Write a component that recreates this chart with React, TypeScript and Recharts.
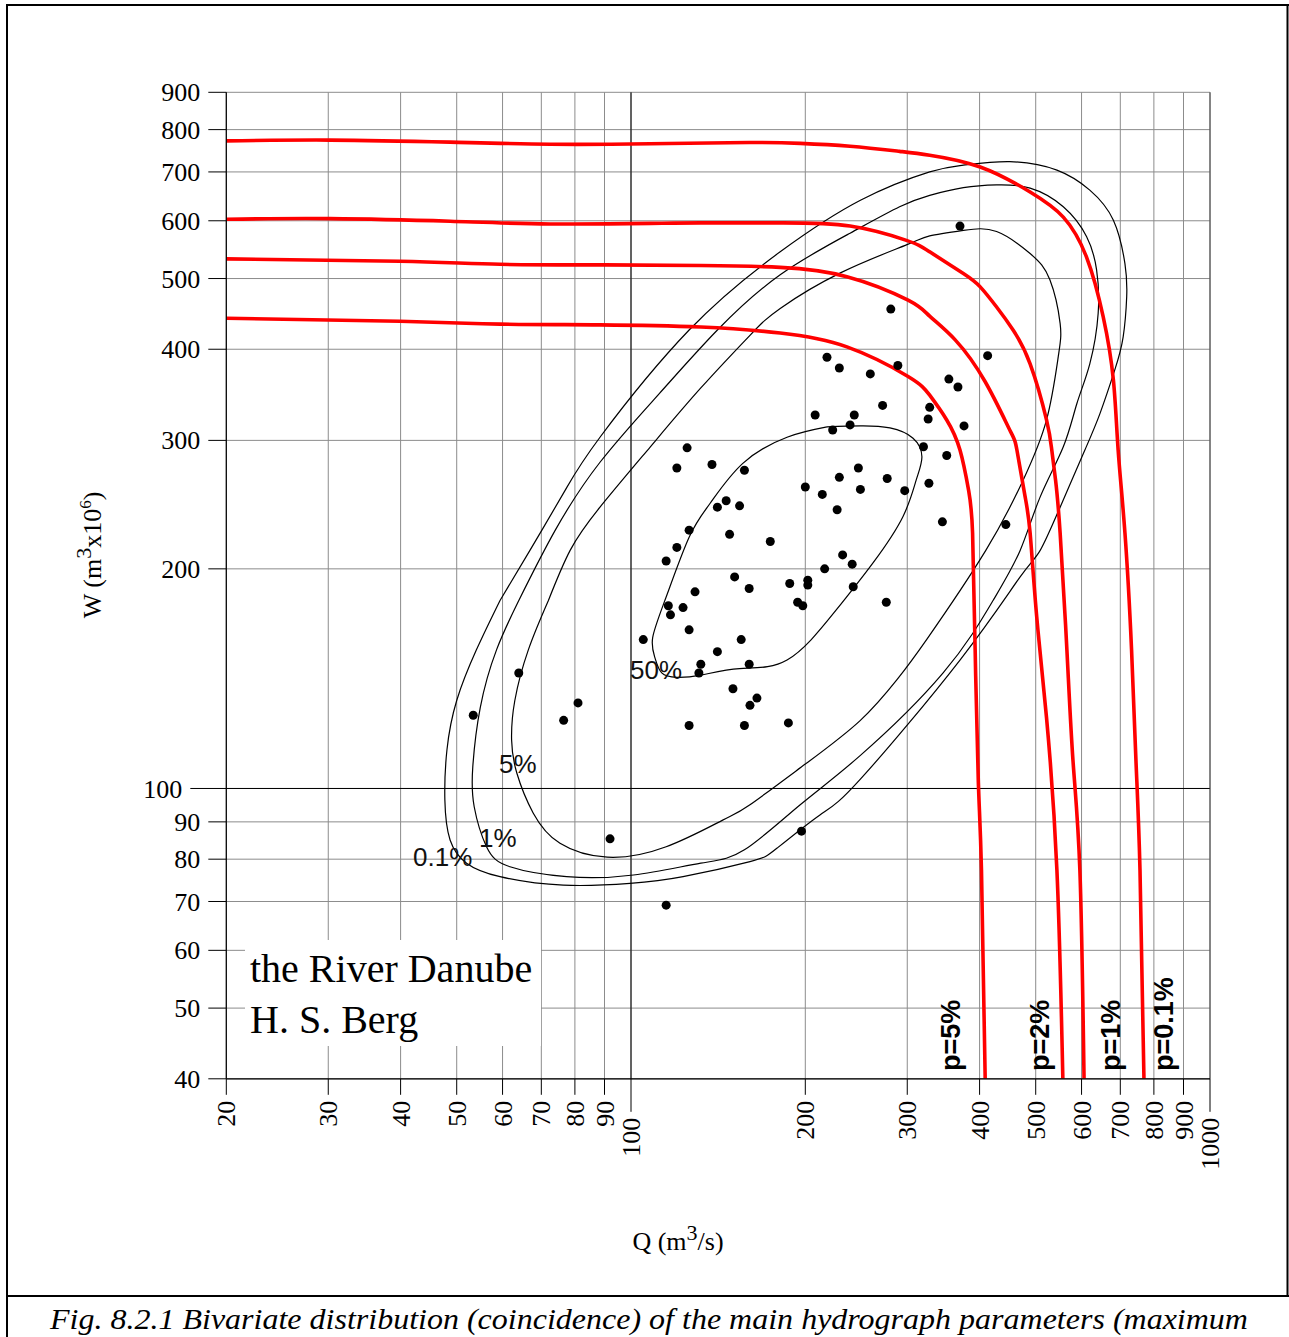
import React from "react";
import { ComposedChart, Scatter, Line, XAxis, YAxis, CartesianGrid, ReferenceLine } from "recharts";

// axis ticks (log-log)
const xTicks = [20, 30, 40, 50, 60, 70, 80, 90, 100, 200, 300, 400, 500, 600, 700, 800, 900, 1000];
const yTicks = [40, 50, 60, 70, 80, 90, 100, 200, 300, 400, 500, 600, 700, 800, 900];

// observed flood waves [Q m3/s, W m3x10^6]
const observed: [number, number][] = [
  [370, 590], [281, 454], [413, 392], [218, 390], [229, 377], [259, 370], [289, 380], [354, 364],
  [367, 355], [272, 335], [328, 333], [326, 321], [376, 314], [208, 325], [243, 325], [239, 315],
  [223, 310], [125, 293], [320, 294], [351, 286], [120, 275], [138, 278], [157, 273], [277, 266],
  [229, 267], [247, 275], [200, 259], [214, 253], [249, 257], [297, 256], [327, 262], [146, 248],
  [141, 243], [154, 244], [227, 241], [345, 232], [444, 230], [126, 226], [148, 223], [174, 218],
  [120, 214], [115, 205], [232, 209], [241, 203], [216, 200], [151, 195], [160, 188], [188, 191],
  [202, 193], [202, 190], [242, 189], [129, 186], [116, 178], [123, 177], [117, 173], [194, 180],
  [198, 178], [276, 180], [126, 165], [105, 160], [155, 160], [141, 154], [132, 148], [160, 148],
  [131, 144], [64, 144], [150, 137], [165, 133], [160.5, 130], [81, 131], [76.5, 124], [53.4, 126],
  [126, 122], [157, 122], [187, 123], [92, 85.3], [197, 87.4], [115, 69.2],
];

// probability contours of the joint distribution
const contour50: [number, number][] = [
  [218, 313], [249, 314], [280, 312], [307, 302], [318, 285], [311, 265], [295, 236], [262, 204],
  [224, 174], [186, 150], [154, 146], [132, 143], [120, 142], [113, 144], [110, 151], [109, 161],
  [115, 183], [126, 221], [137, 246], [156, 279], [186, 303], [218, 313],
];
const contour5: [number, number][] = [
  [72, 181], [78.5, 212], [88.4, 243], [108, 294], [132, 354], [160.5, 418], [181, 455], [230, 509],
  [299, 556], [328, 572], [375, 582], [428, 580], [489, 541], [529, 498], [551, 434], [547, 391],
  [522, 320], [476, 265], [410, 212], [324, 160], [288, 141], [249, 124], [200, 108], [160.5, 95],
  [144, 90.5], [115, 83.2], [91, 80.5], [75.4, 84.1], [67.8, 92.5], [63.5, 105], [62.2, 116.5],
  [63, 132], [66.5, 155], [72, 181],
];
const contour1: [number, number][] = [
  [64, 181], [74, 226], [88.4, 280], [112, 348], [141, 425], [181, 506], [239, 577], [291, 627],
  [328, 650], [375, 666], [428, 672], [489, 665], [558, 627], [612, 571], [637, 514], [641, 448],
  [620, 382], [589, 337], [558, 294], [509, 251], [470, 212], [422, 181], [346, 144], [249, 111],
  [196, 95], [157, 82.4], [132, 79], [101, 76.1], [77.4, 75.7], [61.8, 78.1], [56.3, 83.2],
  [53.6, 94.4], [53.3, 107], [54.9, 129], [58.6, 155], [64, 181],
];
const contour01: [number, number][] = [
  [59.4, 181], [66.9, 212], [76.9, 256], [88.4, 303], [126, 425], [181, 544], [249, 640], [328, 700],
  [375, 715], [451, 723], [544, 704], [620, 661], [681, 601], [713, 524], [718, 472], [708, 416],
  [685, 375], [646, 327], [608, 291], [551, 243], [509, 212], [470, 195], [370, 150], [249, 103],
  [212, 92], [179, 82.9], [160.5, 79.4], [123, 75.7], [99.6, 74.1], [76.4, 73.7], [59.4, 75.7],
  [52, 79], [48.7, 85], [47.7, 96.4], [48.1, 113], [50, 132], [54.1, 155], [59.4, 181],
];

// exceedance probability curves p
const p5: [number, number][] = [
  [20, 441], [39.9, 437], [59.4, 433], [88.4, 432], [132, 429], [181, 421], [236, 403], [301, 367],
  [328, 346], [351, 320], [370, 291], [383, 256], [389, 224], [393, 155], [398, 102], [403, 77.3], [409, 40],
];
const p2: [number, number][] = [
  [20, 532], [39.9, 528], [59.4, 523], [88.4, 522], [132, 521], [181, 518], [236, 503], [301, 467],
  [328, 444], [363, 412], [409, 361], [451, 310], [464, 291], [479, 252], [489, 224], [502, 172],
  [522, 125], [544, 77.3], [557, 40],
];
const p1: [number, number][] = [
  [20, 603], [30.2, 604], [48.7, 599], [72.5, 594], [108, 595], [132, 596], [181, 596], [239, 590],
  [299, 564], [328, 544], [375, 508], [401, 487], [428, 457], [457, 425], [489, 382], [522, 320],
  [533, 291], [541, 265], [551, 224], [566, 155], [580, 109], [596, 77.3], [606, 40],
];
const p01: [number, number][] = [
  [20, 772], [30.2, 774], [48.7, 769], [72.5, 764], [108, 765], [160, 768], [196, 766], [239, 759],
  [291, 747], [328, 738], [401, 711], [489, 657], [558, 607], [612, 535], [654, 443], [681, 363],
  [694, 291], [713, 224], [732, 155], [745, 109], [757, 77.3], [769, 40],
];

const toPts = (a: [number, number][]) => a.map(([q, w]) => ({ q, w }));

const SERIF = "'Liberation Serif', 'Times New Roman', serif";
const SANS = "'Liberation Sans', Arial, sans-serif";
const GRID = "#8c8c8c";

const dot = (p: any) => <circle cx={p.cx} cy={p.cy} r={4.5} fill="#000" />;

const XTick = (props: any) => {
  const { x, y, payload } = props;
  const v = payload.value;
  const len = v === 100 || v === 1000 ? 33 : 16;
  const ty = y + len + 6;
  return (
    <g>
      <line x1={x} x2={x} y1={y} y2={y + len} stroke="#000" strokeWidth={1} />
      <text
        x={x}
        y={ty}
        dy="0.35em"
        textAnchor="end"
        transform={`rotate(-90 ${x} ${ty})`}
        fontFamily={SERIF}
        fontSize={26}
        fill="#000"
      >
        {v}
      </text>
    </g>
  );
};

const YTick = (props: any) => {
  const { x, y, payload } = props;
  const v = payload.value;
  const len = v === 100 ? 36 : 18;
  return (
    <g>
      <line x1={x - len} x2={x} y1={y} y2={y} stroke="#000" strokeWidth={1} />
      <text x={x - len - 8} y={y} dy="0.35em" textAnchor="end" fontFamily={SERIF} fontSize={26} fill="#000">
        {v}
      </text>
    </g>
  );
};

export default function App() {
  return (
    <div style={{ position: "relative", width: 1289, height: 1337, background: "#fff" }}>
      <style>{"body{margin:0;background:#fff}"}</style>
      <ComposedChart width={1289} height={1337} margin={{ top: 92.3, right: 79, left: 146.3, bottom: 198.2 }}>
        <CartesianGrid stroke={GRID} strokeWidth={1} />
        <ReferenceLine x={100} stroke="#000" strokeWidth={1} />
        <ReferenceLine y={100} stroke="#000" strokeWidth={1} />
        <XAxis
          dataKey="q"
          type="number"
          scale="log"
          domain={[20, 1000]}
          ticks={xTicks}
          interval={0}
          allowDataOverflow
          height={60}
          tickSize={0}
          tickMargin={0}
          tickLine={false}
          axisLine={{ stroke: "#000", strokeWidth: 1.2 }}
          tick={<XTick />}
        />
        <YAxis
          dataKey="w"
          type="number"
          scale="log"
          domain={[40, 900]}
          ticks={yTicks}
          interval={0}
          allowDataOverflow
          width={80}
          tickSize={0}
          tickMargin={0}
          tickLine={false}
          axisLine={{ stroke: "#000", strokeWidth: 1.2 }}
          tick={<YTick />}
        />
        <ReferenceLine x={1000} stroke="#444" strokeWidth={1} />
        {[contour01, contour1, contour5, contour50].map((c, i) => (
          <Line
            key={"c" + i}
            data={toPts(c)}
            dataKey="w"
            type="natural"
            stroke="#000"
            strokeWidth={1.2}
            dot={false}
            activeDot={false}
            isAnimationActive={false}
          />
        ))}
        {[p5, p2, p1, p01].map((c, i) => (
          <Line
            key={"p" + i}
            data={toPts(c)}
            dataKey="w"
            type="natural"
            stroke="#ff0000"
            strokeWidth={3.6}
            dot={false}
            activeDot={false}
            isAnimationActive={false}
          />
        ))}
        <Scatter data={toPts(observed)} dataKey="w" fill="#000" shape={dot} isAnimationActive={false} />
      </ComposedChart>

      <svg
        width={1289}
        height={1337}
        style={{ position: "absolute", left: 0, top: 0, pointerEvents: "none" }}
      >
        {/* frame */}
        <line x1={7} x2={1289} y1={5} y2={5} stroke="#000" strokeWidth={2} />
        <line x1={7} x2={7} y1={4} y2={1337} stroke="#000" strokeWidth={2} />
        <line x1={1287.5} x2={1287.5} y1={4} y2={1296} stroke="#000" strokeWidth={2} />
        <line x1={7} x2={1289} y1={1296} y2={1296} stroke="#000" strokeWidth={2} />

        {/* axis titles */}
        <text
          x={101}
          y={555}
          textAnchor="middle"
          transform="rotate(-90 101 555)"
          fontFamily={SERIF}
          fontSize={26}
          fill="#000"
        >
          W (m<tspan dy={-10} fontSize={22}>3</tspan>
          <tspan dy={10}>x10</tspan>
          <tspan dy={-10} fontSize={17}>6</tspan>
          <tspan dy={10}>)</tspan>
        </text>
        <text x={678} y={1250} textAnchor="middle" fontFamily={SERIF} fontSize={26} fill="#000">
          Q (m<tspan dy={-10} fontSize={22}>3</tspan>
          <tspan dy={10}>/s)</tspan>
        </text>

        {/* contour labels */}
        <g fontFamily={SANS} fontSize={26} fill="#111">
          <text x={630} y={679}>50%</text>
          <text x={499} y={773}>5%</text>
          <text x={479} y={847}>1%</text>
          <text x={413} y={866}>0.1%</text>
        </g>

        {/* p labels */}
        <g fontFamily={SANS} fontSize={27} fontWeight="bold" fill="#000">
          <text x={960} y={1071} transform="rotate(-90 960 1071)">p=5%</text>
          <text x={1049} y={1071} transform="rotate(-90 1049 1071)">p=2%</text>
          <text x={1120} y={1071} transform="rotate(-90 1120 1071)">p=1%</text>
          <text x={1173} y={1071} transform="rotate(-90 1173 1071)">p=0.1%</text>
        </g>

        {/* river box */}
        <rect x={245} y={940} width={296} height={106} fill="#fff" />
        <text x={250} y={982} fontFamily={SERIF} fontSize={40} fill="#000">the River Danube</text>
        <text x={250} y={1033} fontFamily={SERIF} fontSize={40} fill="#000">H. S. Berg</text>

        {/* caption */}
        <text
          x={50}
          y={1329}
          fontFamily={SERIF}
          fontStyle="italic"
          fontSize={30}
          fill="#000"
          textLength={1198}
          lengthAdjust="spacingAndGlyphs"
        >
          Fig. 8.2.1 Bivariate distribution (coincidence) of the main hydrograph parameters (maximum
        </text>
      </svg>
    </div>
  );
}
